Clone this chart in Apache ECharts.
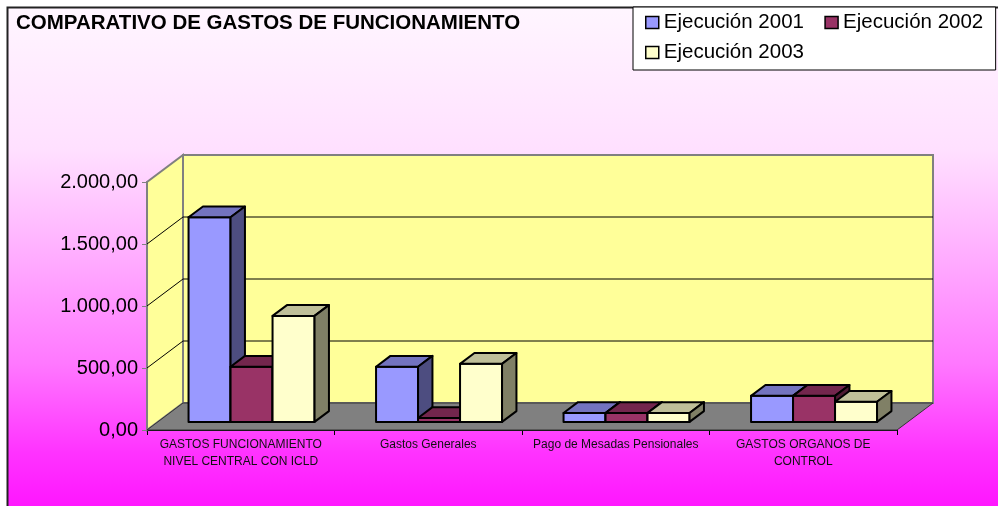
<!DOCTYPE html>
<html>
<head>
<meta charset="utf-8">
<script src="https://cdn.jsdelivr.net/npm/echarts@6/dist/echarts.min.js"></script>
<style>
  html, body { margin: 0; padding: 0; background: #fff; }
  #main { width: 998px; height: 506px; }
</style>
</head>
<body>
<div id="main"></div>
<script>
  // datos
  const categorias = [
    'GASTOS FUNCIONAMIENTO\nNIVEL CENTRAL CON ICLD',
    'Gastos Generales',
    'Pago de Mesadas Pensionales',
    'GASTOS ORGANOS DE\nCONTROL'
  ];
  const ejecucion2001 = [1650, 445, 72, 210];
  const ejecucion2002 = [445, 32, 72, 210];
  const ejecucion2003 = [855, 468, 72, 162];
  const yTicks = [0, 500, 1000, 1500, 2000];
  const yLabels = ['0,00', '500,00', '1.000,00', '1.500,00', '2.000,00'];

  const FONT = 'Arial, "Liberation Sans", sans-serif';
  // profundidad del efecto 3D (px)
  const DX = 36, DY = -27;
  const D0 = 0.3, D1 = 0.7;      // fondo de las barras dentro de la profundidad
  const BAR_FRAC = 0.224;        // ancho de barra / ancho de categoria

  const colores = [
    { front: '#9999FF', top: '#7373BF', side: '#4D4D80' },
    { front: '#993366', top: '#73264D', side: '#4D1A33' },
    { front: '#FFFFCC', top: '#BFBF99', side: '#808066' }
  ];

  function barRender(idx) {
    const c = colores[idx];
    return function (params, api) {
      const cat = api.value(0), val = api.value(1);
      const base = api.coord([cat, 0]);
      const top = api.coord([cat, val]);
      const bw = api.size([1, 0])[0] * BAR_FRAC;
      const x0 = base[0] - 1.5 * bw + idx * bw + DX * D0;
      const x1 = x0 + bw;
      const yb = base[1] + DY * D0;
      const yt = top[1] + DY * D0;
      const ddx = DX * (D1 - D0), ddy = DY * (D1 - D0);
      const st = { stroke: '#000', lineWidth: 2, lineJoin: 'round' };
      return {
        type: 'group',
        children: [
          { type: 'polygon', shape: { points: [[x0, yb], [x0, yt], [x1, yt], [x1, yb]] },
            style: Object.assign({ fill: c.front }, st) },
          { type: 'polygon', shape: { points: [[x0, yt], [x0 + ddx, yt + ddy], [x1 + ddx, yt + ddy], [x1, yt]] },
            style: Object.assign({ fill: c.top }, st) },
          { type: 'polygon', shape: { points: [[x1, yb], [x1, yt], [x1 + ddx, yt + ddy], [x1 + ddx, yb + ddy]] },
            style: Object.assign({ fill: c.side }, st) }
        ]
      };
    };
  }

  function wallRender(params, api) {
    const cs = params.coordSys;
    const xl = cs.x, xr = cs.x + cs.width;
    const y0 = api.coord([0, yTicks[0]])[1];
    const yMax = api.coord([0, yTicks[yTicks.length - 1]])[1];
    const children = [];
    // pared izquierda
    children.push({ type: 'polygon',
      shape: { points: [[xl, y0], [xl, yMax], [xl + DX, yMax + DY], [xl + DX, y0 + DY]] },
      style: { fill: '#FFFF99', stroke: '#808080', lineWidth: 2 } });
    // pared del fondo
    children.push({ type: 'rect',
      shape: { x: xl + DX, y: yMax + DY, width: xr - xl, height: y0 - yMax },
      style: { fill: '#FFFF99', stroke: '#808080', lineWidth: 2 } });
    // lineas de division
    yTicks.slice(1, -1).forEach(function (v) {
      const y = api.coord([0, v])[1];
      children.push({ type: 'line', shape: { x1: xl, y1: y, x2: xl + DX, y2: y + DY },
        style: { stroke: '#000', lineWidth: 1 } });
      children.push({ type: 'line', shape: { x1: xl + DX, y1: y + DY, x2: xr + DX, y2: y + DY },
        style: { stroke: '#000', lineWidth: 1 } });
    });
    // piso
    children.push({ type: 'polygon',
      shape: { points: [[xl, y0], [xl + DX, y0 + DY], [xr + DX, y0 + DY], [xr, y0]] },
      style: { fill: '#808080', stroke: '#333', lineWidth: 1 } });
    return { type: 'group', children: children };
  }

  const chart = echarts.init(document.getElementById('main'), null, { renderer: 'canvas' });
  chart.setOption({
    backgroundColor: '#fff',
    animation: false,
    graphic: [{
      type: 'rect', z: -10, silent: true,
      shape: { x: 7.5, y: 7.5, width: 1000, height: 510 },
      style: {
        stroke: '#222', lineWidth: 2,
        fill: new echarts.graphic.LinearGradient(0, 0, 0, 1, [
          { offset: 0, color: '#FFF6FF' },
          { offset: 0.28, color: '#FFE0FF' },
          { offset: 0.5, color: '#FFAAFF' },
          { offset: 0.7, color: '#FF77FF' },
          { offset: 0.87, color: '#FF33FF' },
          { offset: 1, color: '#FF10FF' }
        ])
      }
    }],
    title: {
      text: 'COMPARATIVO DE GASTOS DE FUNCIONAMIENTO',
      left: 11, top: 7.5,
      textStyle: { fontFamily: FONT, fontSize: 20.5, fontWeight: 'bold', color: '#000' }
    },
    legend: {
      left: 633, top: 7, width: 350,
      orient: 'horizontal',
      padding: [5, 1, 7, 12],
      itemGap: 9,
      itemWidth: 13, itemHeight: 12,
      icon: 'rect',
      backgroundColor: '#fff',
      borderColor: '#000', borderWidth: 1,
      itemStyle: { borderColor: '#000', borderWidth: 1.5 },
      // espacio extra tras el texto, como en la leyenda original
      formatter: function (name) { return name + '\u00A0\u00A0'; },
      textStyle: { fontFamily: FONT, fontSize: 20.5, color: '#000' },
      data: ['Ejecución 2001', 'Ejecución 2002', 'Ejecución 2003']
    },
    grid: { left: 147, right: 101, top: 182, bottom: 76, containLabel: false, outerBoundsMode: 'none' },
    xAxis: {
      type: 'category',
      data: categorias,
      axisLine: { lineStyle: { color: '#000', width: 1 } },
      axisTick: { show: true, interval: 0, length: 5, lineStyle: { color: '#000' } },
      axisLabel: { interval: 0, margin: 6, fontFamily: FONT, fontSize: 12, lineHeight: 17, color: '#111' },
      splitLine: { show: false }
    },
    yAxis: {
      type: 'value',
      min: 0, max: 2000, interval: 500,
      axisLine: { show: true, lineStyle: { color: '#808080', width: 2 } },
      axisTick: { show: true, length: 5, lineStyle: { color: '#808080' } },
      axisLabel: {
        margin: 9, fontFamily: FONT, fontSize: 20, color: '#000',
        formatter: function (v) { return yLabels[yTicks.indexOf(v)]; }
      },
      splitLine: { show: false }
    },
    series: [
      { type: 'custom', name: 'paredes', z: 1, silent: true, renderItem: wallRender, data: [[0, 0]] },
      { type: 'custom', name: 'Ejecución 2001', z: 2, renderItem: barRender(0),
        itemStyle: { color: colores[0].front }, data: ejecucion2001.map(function (v, i) { return [i, v]; }) },
      { type: 'custom', name: 'Ejecución 2002', z: 2, renderItem: barRender(1),
        itemStyle: { color: colores[1].front }, data: ejecucion2002.map(function (v, i) { return [i, v]; }) },
      { type: 'custom', name: 'Ejecución 2003', z: 2, renderItem: barRender(2),
        itemStyle: { color: colores[2].front }, data: ejecucion2003.map(function (v, i) { return [i, v]; }) }
    ]
  });
</script>
</body>
</html>
